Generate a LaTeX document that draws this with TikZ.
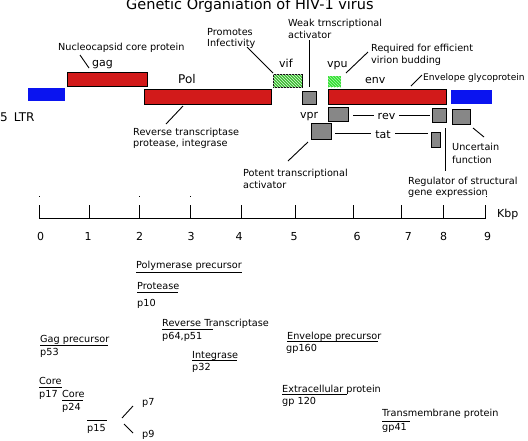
\documentclass[tikz,border=0pt]{standalone}
\usepackage{fontspec}
\setmainfont{DejaVu Sans}
\usetikzlibrary{patterns}
\definecolor{genered}{RGB}{210,26,26}
\definecolor{ltrblue}{RGB}{10,20,240}
\definecolor{vifgreen}{RGB}{60,190,50}
\definecolor{vpugreen}{RGB}{50,225,50}
\definecolor{dither}{RGB}{135,135,135}
\begin{document}
\begin{tikzpicture}[x=1pt,y=-1pt,
  lbl/.style={font=\fontsize{9.7}{11}\selectfont, inner sep=0pt, anchor=base west},
  gene/.style={font=\fontsize{11}{13}\selectfont, inner sep=0pt, anchor=base west},
  num/.style={font=\fontsize{11}{13}\selectfont, inner sep=0pt, anchor=base},
  box/.style={anchor=north west, inner sep=0pt, outer sep=0pt, line width=0.8pt},
  redbox/.style={box, draw=black, fill=genered},
  bluebox/.style={box, fill=ltrblue},
  graybox/.style={box, draw=black, fill=dither},
  lead/.style={line width=0.9pt},
  rule/.style={line width=0.9pt}
]
\useasboundingbox (0,0) rectangle (528,440);
% title
\node[font=\fontsize{14.5}{17}\selectfont, inner sep=0pt, anchor=base west] (title) at (126,9.5) {Genetic Organiation of HIV-1 virus};

% gene boxes
\node[bluebox, minimum width=37pt, minimum height=13pt] (ltr5) at (28,88) {};
\node[redbox, minimum width=80pt, minimum height=14pt] (gag) at (67,72) {};
\node[redbox, minimum width=127pt, minimum height=15pt] (pol) at (144,89) {};
\node[box, draw=black, fill=vifgreen, minimum width=29pt, minimum height=13pt,
      postaction={pattern=north west lines, pattern color=white!85!vifgreen}] (vif) at (273,74) {};
\node[graybox, minimum width=14pt, minimum height=13pt] (vpr) at (302,91) {};
\node[box, fill=vpugreen, minimum width=13pt, minimum height=11pt,
      postaction={pattern=north west lines, pattern color=white!60!vpugreen}] (vpu) at (328,76) {};
\node[redbox, minimum width=118pt, minimum height=15pt] (env) at (328,89) {};
\node[bluebox, minimum width=41pt, minimum height=14pt] (ltr3) at (451,90) {};
\node[graybox, minimum width=20pt, minimum height=14pt] (rev1) at (328,107.5) {};
\node[graybox, minimum width=14pt, minimum height=14pt] (rev2) at (432,108) {};
\node[graybox, minimum width=18pt, minimum height=15pt] (unc) at (452,109) {};
\node[graybox, minimum width=20pt, minimum height=16pt] (tat1) at (311,123) {};
\node[graybox, minimum width=9pt, minimum height=15pt] (tat2) at (431,132) {};

% gene labels
\node[gene] (lgag) at (92,66) {gag};
\node[gene, font=\fontsize{12}{14}\selectfont] (lpol) at (178,83) {Pol};
\node[gene] (lvif) at (279,67) {vif};
\node[gene] (lvpu) at (327,67) {vpu};
\node[gene] (lenv) at (365,83) {env};
\node[gene] (lvpr) at (300,118) {vpr};
\node[gene, anchor=base] (lrev) at (386.5,119) {rev};
\node[gene, anchor=base] (ltat) at (383,138) {tat};
\node[gene, font=\fontsize{12}{14}\selectfont] (lltr) at (0,121) {5\hspace{6pt}LTR};

% annotations
\node[lbl] (nucl) at (58,50) {Nucleocapsid core protein};
\node[lbl] (prom1) at (207,35) {Promotes};
\node[lbl] (prom2) at (207,46) {Infectivity};
\node[lbl] (weak1) at (288,26) {Weak trnscriptional};
\node[lbl] (weak2) at (288,38) {activator};
\node[lbl] (req1) at (371,51) {Required for efficient};
\node[lbl] (req2) at (371,63) {virion budding};
\node[lbl, font=\fontsize{9.1}{11}\selectfont] (envg) at (423,80) {Envelope glycoprotein};
\node[lbl] (rt1) at (133,135) {Reverse transcriptase};
\node[lbl] (rt2) at (133,146) {protease, integrase};
\node[lbl] (unc1) at (452,150) {Uncertain};
\node[lbl] (unc2) at (452,163) {function};
\node[lbl] (reg1) at (408,184) {Regulator of structural};
\node[lbl] (reg2) at (408,195) {gene expression};
\node[lbl] (pot1) at (243,176) {Potent transcriptional};
\node[lbl] (pot2) at (243,188) {activator};

% leader lines
\coordinate (nucA) at (80,55);   \coordinate (nucB) at (89,68);
\coordinate (rtA) at (183,106);  \coordinate (rtB) at (166,124);
\coordinate (infA) at (247,47);  \coordinate (infB) at (273,73);
\coordinate (weakA) at (309,40); \coordinate (weakB) at (309,87);
\coordinate (vpuA) at (346,73);  \coordinate (vpuB) at (368,52);
\coordinate (envA) at (411,86);  \coordinate (envB) at (422,75);
\coordinate (revA) at (353,115); \coordinate (revB) at (374,115);
\coordinate (revC) at (399,115); \coordinate (revD) at (430,115);
\coordinate (tatA) at (335,133.3); \coordinate (tatB) at (371,133.3);
\coordinate (tatC) at (395,133.3); \coordinate (tatD) at (428,133.3);
\coordinate (regA) at (445,128); \coordinate (regB) at (445,171);
\coordinate (uncA) at (473,128); \coordinate (uncB) at (484,137);
\coordinate (potA) at (308,142); \coordinate (potB) at (288,161);
\draw[lead] (nucA) -- (nucB);
\draw[lead] (rtA) -- (rtB);
\draw[lead] (infA) -- (infB);
\draw[lead] (weakA) -- (weakB);
\draw[lead] (vpuA) -- (vpuB);
\draw[lead] (envA) -- (envB);
\draw[lead] (revA) -- (revB);
\draw[lead] (revC) -- (revD);
\draw[lead] (tatA) -- (tatB);
\draw[lead] (tatC) -- (tatD);
\draw[lead] (regA) -- (regB);
\draw[lead] (uncA) -- (uncB);
\draw[lead] (potA) -- (potB);

% axis
\coordinate (ax0) at (39,218); \coordinate (ax9) at (486,218);
\draw[rule] (ax0) -- (ax9);
\foreach \x [count=\k] in {39,89.3,139,190.3,241,295.3,353.7,401.7,443.7,485.7}{
  \coordinate (tk\k) at (\x,205);
  \draw[rule] (tk\k) -- (\x,218);
}
\foreach \x/\l in {40.5/0,88/1,139.7/2,191/3,239/4,294/5,357/6,408.3/7,443.7/8,487.5/9}
  \node[num] (n\l) at (\x,240) {\l};
\node[gene] (kbp) at (497,217) {Kbp};
\foreach \x in {39,139,190.3,486}
  \fill (\x-0.5,196.2) rectangle (\x+0.5,197.2);

% protein products
\node[lbl] (polp) at (136,268) {Polymerase precursor};
\node[lbl] (prot) at (137,289) {Protease};
\node[lbl] (p10) at (137,306) {p10};
\node[lbl] (rtase) at (162,326) {Reverse Transcriptase};
\node[lbl] (p6451) at (162,339) {p64,p51};
\node[lbl] (integ) at (192,358) {Integrase};
\node[lbl] (p32) at (192,370) {p32};
\node[lbl] (envp) at (287,339) {Envelope precursor};
\node[lbl] (gp160) at (286,351) {gp160};
\node[lbl] (extra) at (282,392) {Extracellular protein};
\node[lbl] (gp120) at (282,404) {gp 120};
\node[lbl] (trans) at (382,416) {Transmembrane protein};
\node[lbl] (gp41) at (382,430) {gp41};
\node[lbl] (gagp) at (40,342) {Gag precursor};
\node[lbl] (p53) at (40,355) {p53};
\node[lbl] (core1) at (39,384) {Core};
\node[lbl] (p17) at (39,397) {p17};
\node[lbl] (core2) at (62,397) {Core};
\node[lbl] (p24) at (62,410) {p24};
\node[lbl] (p15) at (87,431) {p15};
\node[lbl] (p7) at (142,405) {p7};
\node[lbl] (p9) at (142,437) {p9};

% rules under/over products
\draw[rule] (polp.base west |- 0,272) -- ++(106,0);
\draw[rule] (prot.base west |- 0,292) -- ++(41,0);
\draw[rule] (p6451.base west |- 0,329) -- ++(51,0);
\draw[rule] (integ.base west |- 0,360) -- ++(45,0);
\draw[rule] (envp.base west |- 0,341) -- ++(91,0);
\draw[rule] (extra.base west |- 0,394) -- ++(65,0);
\draw[rule] (gp41.base west |- 0,421) -- ++(28,0);
\draw[rule] (gagp.base west |- 0,345) -- ++(68,0);
\draw[rule] (p17.base west |- 0,387) -- ++(23,0);
\draw[rule] (p24.base west |- 0,400) -- ++(21,0);
\draw[rule] (p15.base west |- 0,420) -- ++(20,0);

% p15 cleavage
\coordinate (p15a) at (122,418); \coordinate (p7a) at (133,406);
\coordinate (p15b) at (124,424); \coordinate (p9a) at (133,433);
\draw[lead] (p15a) -- (p7a);
\draw[lead] (p15b) -- (p9a);
\end{tikzpicture}
\end{document}
